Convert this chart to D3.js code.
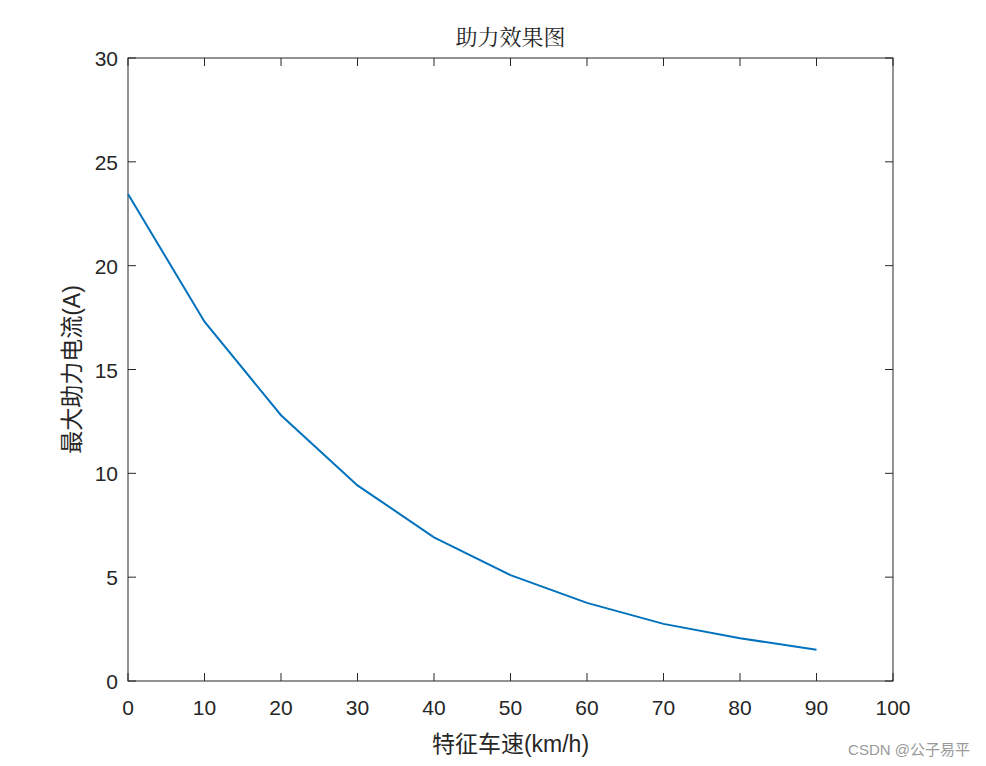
<!DOCTYPE html>
<html><head><meta charset="utf-8">
<script src="https://cdn.jsdelivr.net/npm/d3@7/dist/d3.min.js"></script>
<style>body{margin:0;background:#fff}</style></head>
<body><svg id="c" width="986" height="766"></svg>
<script>
const speeds=[0,10,20,30,40,50,60,70,80,90];
const currents=[23.45,17.3,12.8,9.42,6.92,5.1,3.76,2.75,2.06,1.5];
const xTicks=[0,10,20,30,40,50,60,70,80,90,100];
const yTicks=[0,5,10,15,20,25,30];
const svg=d3.select("#c");
const L=128,R=893,T=58,B=681;
const x=d3.scaleLinear().domain([0,100]).range([L,R]);
const y=d3.scaleLinear().domain([0,30]).range([B,T]);
const f="'Liberation Sans', Arial, 'Noto Sans CJK SC', sans-serif";
svg.append("rect").attr("x",L).attr("y",T).attr("width",R-L).attr("height",B-T).attr("fill","#fff").attr("stroke","#262626").attr("stroke-width",1);
const g=svg.append("g");
xTicks.forEach(t=>{
 g.append("line").attr("x1",x(t)).attr("x2",x(t)).attr("y1",B).attr("y2",B-8).attr("stroke","#262626");
 g.append("line").attr("x1",x(t)).attr("x2",x(t)).attr("y1",T).attr("y2",T+8).attr("stroke","#262626");
 g.append("text").attr("x",x(t)).attr("y",B+34).attr("text-anchor","middle").attr("font-family",f).attr("font-size",21).attr("fill","#262626").text(t);
});
yTicks.forEach(t=>{
 g.append("line").attr("x1",L).attr("x2",L+8).attr("y1",y(t)).attr("y2",y(t)).attr("stroke","#262626");
 g.append("line").attr("x1",R).attr("x2",R-8).attr("y1",y(t)).attr("y2",y(t)).attr("stroke","#262626");
 g.append("text").attr("x",L-10).attr("y",y(t)+8).attr("text-anchor","end").attr("font-family",f).attr("font-size",21).attr("fill","#262626").text(t);
});
svg.append("path").datum(speeds.map((s,i)=>[s,currents[i]]))
 .attr("d",d3.line().x(d=>x(d[0])).y(d=>y(d[1]))).attr("fill","none").attr("stroke","#0072BD").attr("stroke-width",2);
svg.append("text").attr("x",(L+R)/2).attr("y",45).attr("text-anchor","middle").attr("font-family","'Noto Serif CJK SC','Noto Sans CJK SC',serif").attr("font-size",22).attr("fill","#262626").text("助力效果图");
svg.append("text").attr("x",(L+R)/2).attr("y",752).attr("text-anchor","middle").attr("font-family",f).attr("font-size",23).attr("fill","#262626").text("特征车速(km/h)");
svg.append("text").attr("transform",`translate(80,${(T+B)/2}) rotate(-90)`).attr("text-anchor","middle").attr("font-family",f).attr("font-size",23).attr("fill","#262626").text("最大助力电流(A)");
svg.append("text").attr("x",970).attr("y",755).attr("text-anchor","end").attr("font-family",f).attr("font-size",15).attr("fill","#9a9a9a").text("CSDN @公子易平");
</script></body></html>
